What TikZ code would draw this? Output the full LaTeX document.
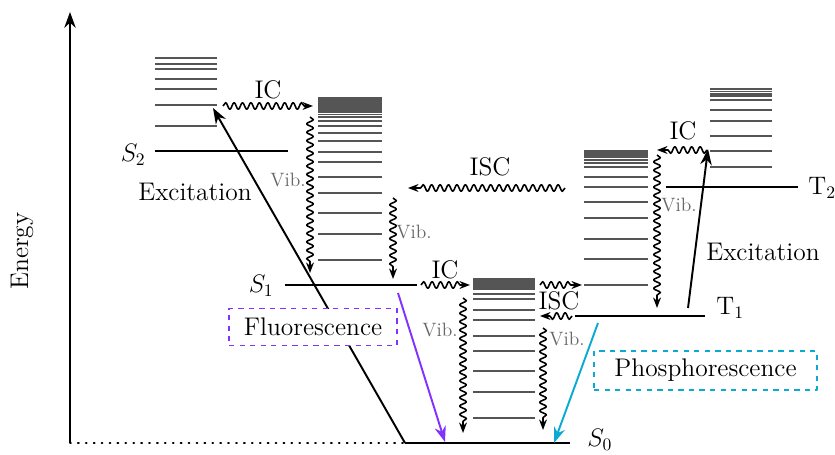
\documentclass[tikz,border=0pt]{standalone}
\usetikzlibrary{decorations.pathmorphing, arrows.meta}
\definecolor{fluocol}{RGB}{130,50,255}
\definecolor{phoscol}{RGB}{10,170,210}
\definecolor{vibgray}{RGB}{85,85,85}
\tikzset{
  vlevel/.style={draw=vibgray, line width=1pt},
  elevel/.style={draw=black, line width=1.2pt},
  wavy/.style={-{Stealth[length=6pt, width=4.5pt]}, line width=0.9pt, decorate,
    decoration={snake, amplitude=1.9pt, segment length=4.8pt, post length=5pt}},
  viblabel/.style={text=black!60, font=\fontsize{11}{13}\selectfont},
  emitbox/.style={dashed, line width=0.8pt, fill=white, inner sep=2pt},
  statelabel/.style={inner sep=0pt}
}
\begin{document}
\begin{tikzpicture}[x=0.02cm, y=-0.02cm, font=\fontsize{14.5}{17}\selectfont,
  line join=round, >={Stealth[length=9pt, width=6.5pt]}]
  \useasboundingbox (0,0) rectangle (835,455);
  % energy axis
  \coordinate (axisbot) at (70,443);
  \coordinate (axistop) at (70,12);
  \draw[->, line width=1.1pt] (axisbot) -- (axistop);
  \node[rotate=90] (energy) at (22,251) {Energy};
  % vibrational levels
  \foreach \y in {58,64,69,79,89,105,126}
    \draw[vlevel] (155,\y) -- (217,\y);
  \foreach \y in {98,100,102,104,106,108,110,112,114.5,117,121,126,133,141,152,162,177,193,213,234,260}
    \draw[vlevel] (318,\y) -- (382,\y);
  \foreach \y in {151,153,155,157,160,163,167,177,187,202,218,239,259,285}
    \draw[vlevel] (584,\y) -- (648,\y);
  \foreach \y in {89,91.5,94,96,100,110,121,136,151,167}
    \draw[vlevel] (710,\y) -- (772,\y);
  \foreach \y in {279,281,283,285,287,289,294,299,310,320,336,351,371,392,418}
    \draw[vlevel] (473,\y) -- (535,\y);
  % electronic states
  \coordinate (S2a) at (155,151); \coordinate (S2b) at (288,151);
  \coordinate (S1a) at (285,285); \coordinate (S1b) at (417,285);
  \coordinate (S0a) at (405,443); \coordinate (S0b) at (570,443);
  \coordinate (T1a) at (575,316); \coordinate (T1b) at (705,316);
  \coordinate (T2a) at (666,187); \coordinate (T2b) at (798,187);
  \draw[elevel] (S2a) -- (S2b);
  \draw[elevel] (S1a) -- (S1b);
  \draw[elevel] (S0a) -- (S0b);
  \draw[elevel] (T1a) -- (T1b);
  \draw[elevel] (T2a) -- (T2b);
  \draw[line width=1.1pt, line cap=round, dash pattern=on 0.5pt off 4pt] (axisbot) -- (S0a);
  \node[statelabel, anchor=base east] (S2lab) at (146,162) {$S_2$};
  \node[statelabel, anchor=base east] (S1lab) at (274,293) {$S_1$};
  \node[statelabel, anchor=base west] (S0lab) at (587,447) {$S_0$};
  \node[statelabel, anchor=base west] (T1lab) at (716,315) {$\mathrm{T}_1$};
  \node[statelabel, anchor=base west] (T2lab) at (808,195) {$\mathrm{T}_2$};
  % excitation
  \coordinate (excLtip) at (213,108);
  \coordinate (excRbot) at (688,308);
  \coordinate (excRtip) at (708,149);
  \draw[->, line width=1.1pt] (S0a) -- (excLtip);
  \draw[->, line width=1.1pt] (excRbot) -- (excRtip);
  \node (excL) at (195,192) {Excitation};
  \node (excR) at (763,252) {Excitation};
  % emission
  \coordinate (fluoS) at (398,293); \coordinate (fluoE) at (445,442);
  \coordinate (phosS) at (598,323); \coordinate (phosE) at (554,443);
  \draw[->, fluocol, line width=1.1pt] (fluoS) -- (fluoE);
  \draw[->, phoscol, line width=1.1pt] (phosS) -- (phosE);
  \node[emitbox, draw=fluocol, minimum width=3.36cm, minimum height=0.74cm] (fluo) at (313,327) {Fluorescence};
  \node[emitbox, draw=phoscol, minimum width=4.46cm, minimum height=0.78cm] (phos) at (705.5,370.5) {Phosphorescence};
  % internal conversion
  \coordinate (icAs) at (223,106); \coordinate (icAe) at (313,106);
  \coordinate (icBs) at (421,285); \coordinate (icBe) at (470,285);
  \coordinate (icCs) at (707,150); \coordinate (icCe) at (657,150);
  \draw[wavy] (icAs) -- (icAe);
  \draw[wavy] (icBs) -- (icBe);
  \draw[wavy] (icCs) -- (icCe);
  \node (icAlab) at (268,90) {IC};
  \node (icBlab) at (445,270) {IC};
  \node (icClab) at (683,131) {IC};
  % intersystem crossing
  \coordinate (iscAs) at (565,188); \coordinate (iscAe) at (408,188);
  \coordinate (iscBs) at (540,285); \coordinate (iscBe) at (582,285);
  \coordinate (iscCs) at (572,316); \coordinate (iscCe) at (540,316);
  \draw[wavy] (iscAs) -- (iscAe);
  \draw[wavy] (iscBs) -- (iscBe);
  \draw[wavy] (iscCs) -- (iscCe);
  \node (iscAlab) at (490,167) {ISC};
  \node (iscBlab) at (559,301) {ISC};
  % vibrational relaxation
  \coordinate (vibAs) at (310,117); \coordinate (vibAe) at (310,273);
  \coordinate (vibBs) at (393,198); \coordinate (vibBe) at (393,279);
  \coordinate (vibCs) at (657,155); \coordinate (vibCe) at (657,308);
  \coordinate (vibDs) at (463,298); \coordinate (vibDe) at (463,433);
  \coordinate (vibEs) at (543,328); \coordinate (vibEe) at (543,430);
  \foreach \v in {A,B,C,D,E}
    \draw[wavy] (vib\v s) -- (vib\v e);
  \node[viblabel] (vibAlab) at (288,180) {Vib.};
  \node[viblabel] (vibBlab) at (414,232) {Vib.};
  \node[viblabel] (vibClab) at (679,205) {Vib.};
  \node[viblabel] (vibDlab) at (440,330) {Vib.};
  \node[viblabel] (vibElab) at (567,339) {Vib.};
\end{tikzpicture}
\end{document}
